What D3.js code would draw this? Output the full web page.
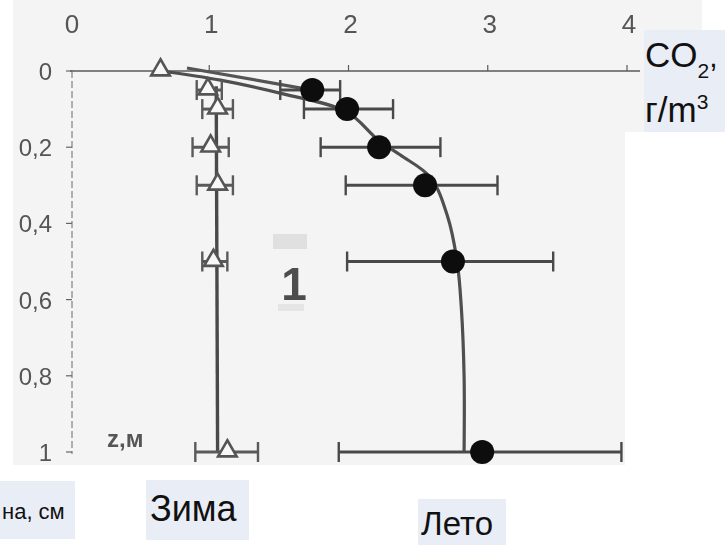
<!DOCTYPE html>
<html>
<head>
<meta charset="utf-8">
<script src="https://cdn.jsdelivr.net/npm/d3@7"></script>
<style>
  html, body { margin: 0; padding: 0; background: #ffffff; }
  svg { display: block; }
</style>
</head>
<body>
<svg id="chart" width="725" height="545"></svg>
<script>
// CO2 concentration (g/m3) versus depth z (m): winter and summer profiles
const co2Ticks = [0, 1, 2, 3, 4];
const depthTicks = [0, 0.2, 0.4, 0.6, 0.8, 1];
const depthTickLabels = ["0", "0,2", "0,4", "0,6", "0,8", "1"];

// Winter measurements (triangles)
const winterDepth = [0, 0.05, 0.1, 0.2, 0.3, 0.5, 1.0];
const winterCO2   = [0.65, 0.99, 1.06, 1.01, 1.06, 1.03, 1.13];
const winterLow   = [null, 0.91, 0.95, 0.88, 0.91, 0.95, 0.90];
const winterHigh  = [null, 1.09, 1.17, 1.14, 1.17, 1.13, 1.35];
// Winter trend line
const winterFitCO2   = [1.05, 1.06];
const winterFitDepth = [0.04, 1.0];

// Summer measurements (filled circles)
const summerDepth = [0.05, 0.1, 0.2, 0.3, 0.5, 1.0];
const summerCO2   = [1.74, 1.99, 2.22, 2.55, 2.75, 2.96];
const summerLow   = [1.51, 1.68, 1.80, 1.98, 1.99, 1.93];
const summerHigh  = [1.94, 2.32, 2.66, 3.07, 3.47, 3.96];
// Summer trend curve
const summerFitCO2   = [0.65, 1.08, 1.53, 1.99, 2.21, 2.37, 2.59, 2.71, 2.78, 2.81, 2.83, 2.83];
const summerFitDepth = [0, 0.024, 0.06, 0.108, 0.18, 0.22, 0.28, 0.38, 0.50, 0.62, 0.8, 1.0];
// Short surface segment
const surfaceFitCO2   = [0.84, 1.74];
const surfaceFitDepth = [-0.008, 0.05];

const svg = d3.select("#chart");
const x = d3.scaleLinear().domain([0, 4]).range([70, 627]);
const y = d3.scaleLinear().domain([0, 1]).range([71, 452]);

// soft scanned look
const defs = svg.append("defs");
defs.append("filter").attr("id", "soft")
  .append("feGaussianBlur").attr("stdDeviation", 0.55);

// paper background
const paper = svg.append("g").attr("fill", "#f4f4f4");
paper.append("rect").attr("x", 13).attr("y", 0).attr("width", 612).attr("height", 465);
paper.append("rect").attr("x", 625).attr("y", 0).attr("width", 77).attr("height", 30);
paper.append("rect").attr("x", 625).attr("y", 30).attr("width", 19).attr("height", 102);

const g = svg.append("g").attr("filter", "url(#soft)");
const font = "Liberation Sans, Arial, sans-serif";

// top axis (CO2)
g.append("line")
  .attr("x1", x(0)).attr("x2", 640).attr("y1", y(0)).attr("y2", y(0))
  .attr("stroke", "#5a5a5a").attr("stroke-width", 1.3);
g.selectAll(".xtick").data(co2Ticks.slice(1)).join("line")
  .attr("x1", d => x(d)).attr("x2", d => x(d))
  .attr("y1", y(0)).attr("y2", y(0) - 6)
  .attr("stroke", "#5a5a5a").attr("stroke-width", 1.2);
g.selectAll(".xlab").data(co2Ticks).join("text")
  .attr("x", d => x(d) + 2).attr("y", 33)
  .attr("text-anchor", "middle")
  .attr("font-family", font)
  .attr("font-size", 26).attr("fill", "#555")
  .text(d => d);

// left axis (depth)
g.append("line")
  .attr("x1", x(0) + 2).attr("x2", x(0) + 2).attr("y1", y(0)).attr("y2", y(1) + 2)
  .attr("stroke", "#6a6a6a").attr("stroke-width", 1)
  .attr("stroke-dasharray", "7,3");
g.selectAll(".ytick").data(depthTicks).join("line")
  .attr("x1", x(0) - 4).attr("x2", x(0) + 2)
  .attr("y1", d => y(d)).attr("y2", d => y(d))
  .attr("stroke", "#666").attr("stroke-width", 1.2);
g.selectAll(".ylab").data(depthTicks).join("text")
  .attr("x", 52).attr("y", d => y(d) + 9)
  .attr("text-anchor", "end")
  .attr("font-family", font)
  .attr("font-size", 24).attr("fill", "#555")
  .text((d, i) => depthTickLabels[i]);

// axis name for depth
g.append("text")
  .attr("x", 107).attr("y", 447)
  .attr("font-family", font)
  .attr("font-size", 24).attr("font-weight", "bold").attr("fill", "#555")
  .text("z,м");

// curve number label
g.append("rect").attr("x", 273).attr("y", 234).attr("width", 34).attr("height", 15)
  .attr("fill", "#e0e0e0");
g.append("text")
  .attr("x", 294).attr("y", 300)
  .attr("text-anchor", "middle")
  .attr("font-family", font)
  .attr("font-size", 46).attr("font-weight", "bold").attr("fill", "#4d4d4d")
  .text("1");
g.append("rect").attr("x", 278).attr("y", 304).attr("width", 26).attr("height", 7)
  .attr("fill", "#e5e5e5");

const straight = d3.line().x(d => x(d[0])).y(d => y(d[1]));
const smooth = d3.line().x(d => x(d[0])).y(d => y(d[1]))
  .curve(d3.curveCatmullRom.alpha(0.5));

// trend lines
g.append("path")
  .attr("d", smooth(d3.zip(summerFitCO2, summerFitDepth)))
  .attr("fill", "none").attr("stroke", "#4f4f4f").attr("stroke-width", 3.2);
g.append("path")
  .attr("d", straight(d3.zip(surfaceFitCO2, surfaceFitDepth)))
  .attr("fill", "none").attr("stroke", "#555").attr("stroke-width", 3.2);
g.append("path")
  .attr("d", straight(d3.zip(winterFitCO2, winterFitDepth)))
  .attr("fill", "none").attr("stroke", "#4a4a4a").attr("stroke-width", 3.4);

// error bars
function errorBars(cls, lows, highs, depths, color) {
  const rows = depths.map((d, i) => ({ d, lo: lows[i], hi: highs[i] }))
    .filter(r => r.lo !== null);
  const eb = g.append("g").attr("stroke", color).attr("fill", "none");
  eb.selectAll("." + cls + "-h").data(rows).join("line")
    .attr("x1", r => x(r.lo)).attr("x2", r => x(r.hi))
    .attr("y1", r => y(r.d)).attr("y2", r => y(r.d))
    .attr("stroke-width", 3);
  eb.selectAll("." + cls + "-l").data(rows).join("line")
    .attr("x1", r => x(r.lo)).attr("x2", r => x(r.lo))
    .attr("y1", r => y(r.d) - 10).attr("y2", r => y(r.d) + 10)
    .attr("stroke-width", 2.4);
  eb.selectAll("." + cls + "-r").data(rows).join("line")
    .attr("x1", r => x(r.hi)).attr("x2", r => x(r.hi))
    .attr("y1", r => y(r.d) - 10).attr("y2", r => y(r.d) + 10)
    .attr("stroke-width", 2.4);
}
errorBars("w", winterLow, winterHigh, winterDepth, "#5a5a5a");
errorBars("s", summerLow, summerHigh, summerDepth, "#4a4a4a");

// winter markers
g.selectAll(".tri").data(d3.zip(winterCO2, winterDepth)).join("path")
  .attr("transform", d => `translate(${x(d[0])},${y(d[1]) - 1})`)
  .attr("d", d3.symbol(d3.symbolTriangle, 150)())
  .attr("fill", "#f8f8f8").attr("stroke", "#555").attr("stroke-width", 2.6);

// summer markers
g.selectAll(".dot").data(d3.zip(summerCO2, summerDepth)).join("circle")
  .attr("cx", d => x(d[0])).attr("cy", d => y(d[1]))
  .attr("r", 12).attr("fill", "#0b0b0b");

// slide labels
function boxLabel(bx, by, bw, bh) {
  svg.append("rect").attr("x", bx).attr("y", by).attr("width", bw).attr("height", bh)
    .attr("fill", "#e9edf5");
}

boxLabel(644, 30, 81, 102);
const co2 = svg.append("text").attr("x", 645).attr("y", 67)
  .attr("font-family", font).attr("font-size", 35).attr("fill", "#111");
co2.append("tspan").text("CO");
co2.append("tspan").attr("font-size", 21).attr("dy", 11).text("2");
co2.append("tspan").attr("font-size", 30).attr("dy", -11).text(",");
const unit = svg.append("text").attr("x", 645).attr("y", 122)
  .attr("font-family", font).attr("font-size", 35).attr("fill", "#111");
unit.append("tspan").text("г/m");
unit.append("tspan").attr("font-size", 21).attr("dy", -13).text("3");

boxLabel(146, 480, 103, 60);
svg.append("text").attr("x", 150).attr("y", 521)
  .attr("font-family", font).attr("font-size", 36).attr("fill", "#111")
  .text("Зима");

boxLabel(418, 499, 88, 46);
svg.append("text").attr("x", 421).attr("y", 535)
  .attr("font-family", font).attr("font-size", 33).attr("fill", "#111")
  .text("Лето");

boxLabel(0, 481, 75, 58);
svg.append("text").attr("x", 2).attr("y", 519)
  .attr("font-family", font).attr("font-size", 22).attr("fill", "#111")
  .text("на, см");
</script>
</body>
</html>
